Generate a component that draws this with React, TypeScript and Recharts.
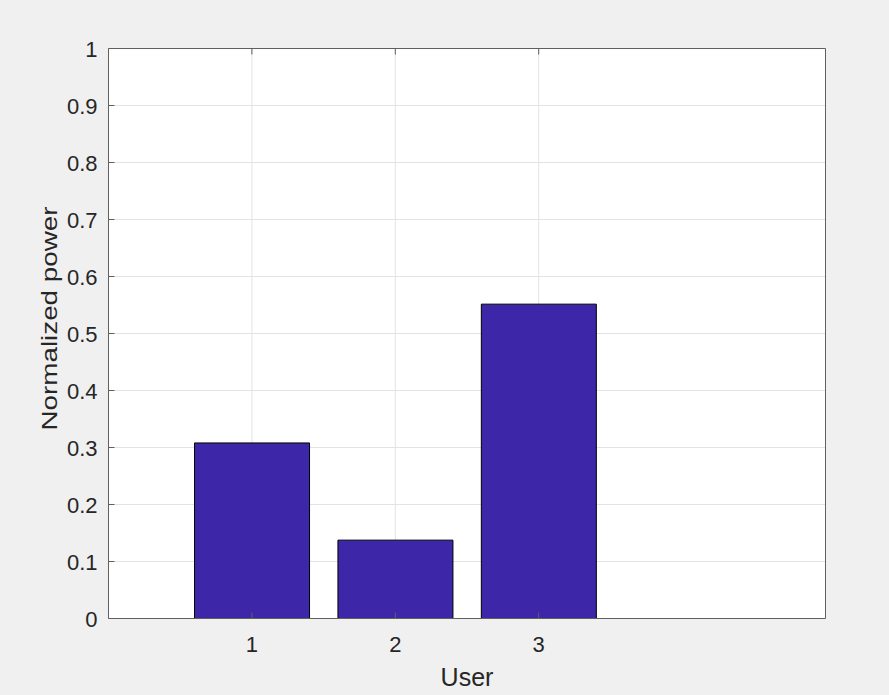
import { Bar, BarChart, CartesianGrid, XAxis, YAxis } from 'recharts'

const users = [1, 2, 3]
const power = [0.308, 0.1375, 0.5515]
const xTicks = [1, 2, 3]
const yTicks = [0, 0.1, 0.2, 0.3, 0.4, 0.5, 0.6, 0.7, 0.8, 0.9, 1]
const xDomain = [0, 5]
const yDomain = [0, 1]

const data = users.map((user, i) => ({ user, power: power[i] }))

const TEXT = '#262626'
const AXIS = '#606060'
const FONT = '"Liberation Sans", Arial, Helvetica, sans-serif'
const TICK_LEN = 6

// MATLAB draws ticks pointing into the plot box, so the tick lines are drawn by hand here
function BottomTick({ x, y, payload }: any) {
  return (
    <g>
      <line x1={x} y1={y} x2={x} y2={y - TICK_LEN} stroke={AXIS} />
      <text x={x} y={y + 33.5} textAnchor="middle" fill={TEXT} fontSize={22} fontFamily={FONT}>
        {payload.value}
      </text>
    </g>
  )
}

function TopTick({ x, y }: any) {
  return <line x1={x} y1={y} x2={x} y2={y + TICK_LEN} stroke={AXIS} />
}

function LeftTick({ x, y, payload }: any) {
  return (
    <g>
      <line x1={x} y1={y} x2={x + TICK_LEN} y2={y} stroke={AXIS} />
      <text x={x - 11} y={y + 8} textAnchor="end" fill={TEXT} fontSize={22} fontFamily={FONT}>
        {payload.value}
      </text>
    </g>
  )
}

function RightTick({ x, y }: any) {
  return <line x1={x} y1={y} x2={x - TICK_LEN} y2={y} stroke={AXIS} />
}

function XLabel({ viewBox }: any) {
  const { x, y, width } = viewBox
  return (
    <text x={x + width / 2} y={y + 67.5} textAnchor="middle" fill={TEXT} fontSize={25} fontFamily={FONT}>
      User
    </text>
  )
}

function YLabel({ viewBox }: any) {
  const { x, y, height } = viewBox
  const cx = x + 57.3
  const cy = y + height / 2 - 15
  return (
    <text
      x={cx}
      y={cy}
      transform={`rotate(-90, ${cx}, ${cy})`}
      textAnchor="middle"
      textLength={224}
      lengthAdjust="spacingAndGlyphs"
      fill={TEXT}
      fontSize={22}
      fontFamily={FONT}
    >
      Normalized power
    </text>
  )
}

export default function App() {
  return (
    <div style={{ position: 'absolute', left: 0, top: 0, width: 889, height: 695, background: '#f0f0f0' }}>
      <BarChart
        width={889}
        height={695}
        data={data}
        margin={{ top: 47.5, right: 62.5, bottom: 0, left: 0 }}
      >
        <CartesianGrid stroke="#e3e3e3" fill="#ffffff" />
        <XAxis
          dataKey="user"
          type="number"
          domain={xDomain}
          ticks={xTicks}
          interval={0}
          height={76.5}
          tickSize={0}
          tickMargin={0}
          tickLine={false}
          tick={<BottomTick />}
          axisLine={{ stroke: AXIS }}
          label={<XLabel />}
          zIndex={600}
        />
        {/* top and right axes only close the box, with inward ticks */}
        <XAxis
          xAxisId="top"
          orientation="top"
          dataKey="user"
          type="number"
          domain={xDomain}
          ticks={xTicks}
          interval={0}
          height={1}
          tickSize={0}
          tickMargin={0}
          tickLine={false}
          tick={<TopTick />}
          axisLine={{ stroke: AXIS }}
          zIndex={600}
        />
        <YAxis
          type="number"
          domain={yDomain}
          ticks={yTicks}
          interval={0}
          width={108.5}
          tickSize={0}
          tickMargin={0}
          tickLine={false}
          tick={<LeftTick />}
          axisLine={{ stroke: AXIS }}
          label={<YLabel />}
          zIndex={600}
        />
        <YAxis
          yAxisId="right"
          orientation="right"
          type="number"
          domain={yDomain}
          ticks={yTicks}
          interval={0}
          width={1}
          tickSize={0}
          tickMargin={0}
          tickLine={false}
          tick={<RightTick />}
          axisLine={{ stroke: AXIS }}
          zIndex={600}
        />
        <Bar dataKey="power" fill="#3e26a8" stroke="#000000" strokeWidth={1} isAnimationActive={false} />
      </BarChart>
    </div>
  )
}
